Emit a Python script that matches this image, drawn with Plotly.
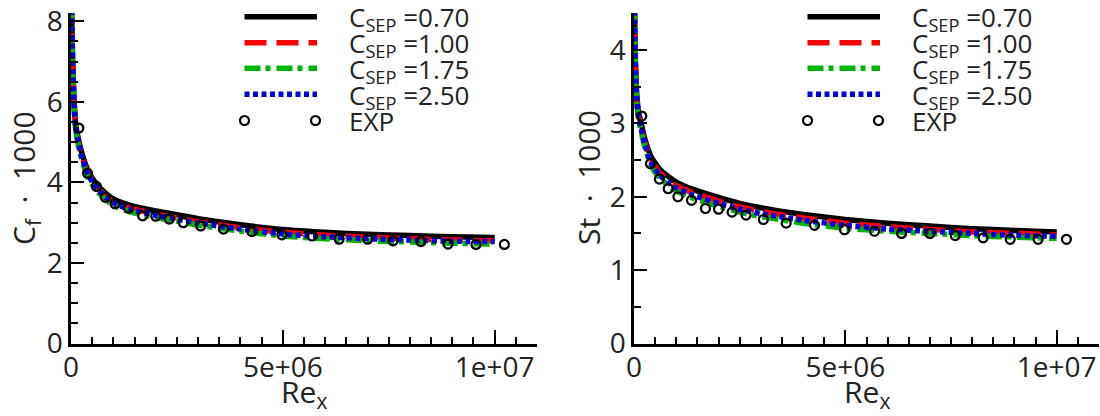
import plotly.graph_objects as go

# ---------------- data ----------------
re_curve = [1e4, 2e4, 4e4, 7e4, 1.1e5, 1.7e5, 2.5e5, 4e5, 6e5, 8e5, 1e6, 1.4e6,
            2e6, 2.5e6, 3e6, 4e6, 5e6, 6e6, 7e6, 8e6, 9e6, 1e7]

cf_070 = [8.6, 7.9, 7.0, 6.1, 5.45, 5.10, 4.75, 4.30, 3.96, 3.75, 3.59, 3.43,
          3.29, 3.20, 3.10, 2.95, 2.83, 2.76, 2.71, 2.68, 2.65, 2.63]
cf_100 = [8.5, 7.8, 6.9, 6.0, 5.38, 5.02, 4.67, 4.22, 3.89, 3.68, 3.52, 3.36,
          3.21, 3.12, 3.02, 2.87, 2.76, 2.69, 2.64, 2.60, 2.57, 2.55]
cf_175 = [8.4, 7.7, 6.8, 5.9, 5.30, 4.93, 4.58, 4.13, 3.80, 3.59, 3.43, 3.27,
          3.13, 3.04, 2.94, 2.79, 2.67, 2.60, 2.55, 2.52, 2.49, 2.47]
cf_250 = [8.5, 7.8, 6.9, 6.0, 5.38, 5.01, 4.66, 4.20, 3.86, 3.65, 3.49, 3.33,
          3.18, 3.09, 2.99, 2.84, 2.72, 2.65, 2.60, 2.57, 2.54, 2.53]

st_070 = [4.70, 4.20, 3.70, 3.35, 3.15, 3.00, 2.80, 2.55, 2.38, 2.28, 2.20, 2.10,
          1.99, 1.91, 1.85, 1.76, 1.69, 1.64, 1.60, 1.565, 1.54, 1.52]
st_100 = [4.65, 4.15, 3.65, 3.30, 3.10, 2.95, 2.75, 2.50, 2.33, 2.23, 2.15, 2.05,
          1.94, 1.86, 1.80, 1.71, 1.64, 1.59, 1.555, 1.52, 1.50, 1.48]
st_175 = [4.60, 4.10, 3.60, 3.25, 3.05, 2.89, 2.69, 2.43, 2.26, 2.16, 2.08, 1.98,
          1.87, 1.79, 1.73, 1.64, 1.57, 1.53, 1.50, 1.47, 1.45, 1.43]
st_250 = [4.65, 4.15, 3.65, 3.30, 3.09, 2.93, 2.73, 2.47, 2.30, 2.20, 2.12, 2.02,
          1.91, 1.83, 1.77, 1.68, 1.61, 1.56, 1.53, 1.50, 1.475, 1.46]

re_exp = [1.85e5, 3.9e5, 6.0e5, 8.1e5, 1.04e6, 1.36e6, 1.69e6, 2.0e6, 2.32e6, 2.65e6,
          3.06e6, 3.6e6, 4.27e6, 4.98e6, 5.69e6, 6.33e6, 7.0e6, 7.6e6, 8.26e6,
          8.9e6, 9.56e6, 1.023e7]
cf_exp = [5.35, 4.23, 3.90, 3.63, 3.47, 3.36, 3.17, 3.16, 3.09, 3.00, 2.92, 2.84,
          2.78, 2.70, 2.67, 2.59, 2.59, 2.55, 2.53, 2.47, 2.46, 2.46]
st_exp = [3.10, 2.45, 2.24, 2.11, 2.00, 1.95, 1.84, 1.83, 1.79, 1.75, 1.69, 1.64,
          1.61, 1.55, 1.53, 1.50, 1.50, 1.47, 1.44, 1.42, 1.42, 1.42]

series_labels = ["0.70", "1.00", "1.75", "2.50"]
x_tickvals = [0, 5e6, 1e7]
x_ticktext = ["0", "5e+06", "1e+07"]

# ---------------- styles ----------------
W, H = 1100, 416
FONT = "Open Sans"
TXT = "#222222"
styles = [
    dict(color="#000000", dash="solid"),
    dict(color="#ff0000", dash="22px,10px"),
    dict(color="#00b400", dash="16px,5px,5px,6px"),
    dict(color="#0000dd", dash="5px,3.5px"),
]
LW = 5.5

fig = go.Figure()

def add_panel(xa, ya, curves, exp_vals):
    for i in range(4):
        fig.add_trace(go.Scatter(
            x=re_curve, y=curves[i], mode="lines", xaxis=xa, yaxis=ya,
            line=dict(color=styles[i]["color"], dash=styles[i]["dash"], width=LW,
                      shape="spline", smoothing=0.5),
            showlegend=False, hoverinfo="skip"))
    fig.add_trace(go.Scatter(
        x=re_exp, y=exp_vals, mode="markers", xaxis=xa, yaxis=ya,
        marker=dict(symbol="circle-open", size=9, color="#000000",
                    line=dict(width=2.2, color="#000000")),
        showlegend=False, hoverinfo="skip"))

add_panel("x", "y", [cf_070, cf_100, cf_175, cf_250], cf_exp)
add_panel("x2", "y2", [st_070, st_100, st_175, st_250], st_exp)

# ---------------- layout / axes ----------------
y_bot = 1 - 343.5 / H
y_top = 1 - 13.3 / H
left_dom = [71 / W, 537 / W]
right_dom = [634 / W, 1099 / W]

def xaxis_cfg(dom, anchor):
    return dict(domain=dom, anchor=anchor, range=[0, 1.1e7], automargin=False,
                tickvals=x_tickvals, ticktext=x_ticktext,
                ticks="inside", ticklen=14, tickwidth=2, tickcolor="#000",
                minor=dict(dtick=5e5, tick0=0, ticks="inside", ticklen=7,
                           tickwidth=1.6, tickcolor="#000"),
                showline=True, linewidth=2.5, linecolor="#000",
                showgrid=False, zeroline=False, ticklabelstandoff=-3,
                tickfont=dict(family=FONT, size=28, color=TXT))

def yaxis_cfg(anchor, rng, dtick):
    return dict(domain=[y_bot, y_top], anchor=anchor, range=rng, automargin=False,
                dtick=dtick, tick0=0,
                ticks="inside", ticklen=13, tickwidth=2, tickcolor="#000",
                minor=dict(dtick=0.5, tick0=0, ticks="inside", ticklen=7,
                           tickwidth=1.6, tickcolor="#000"),
                showline=True, linewidth=2.5, linecolor="#000",
                showgrid=False, zeroline=False,
                tickfont=dict(family=FONT, size=28, color=TXT))

fig.update_layout(
    width=W, height=H,
    margin=dict(l=0, r=0, t=0, b=0, pad=0, autoexpand=False),
    paper_bgcolor="white", plot_bgcolor="rgba(0,0,0,0)",
    showlegend=False,
    xaxis=xaxis_cfg(left_dom, "y"),
    yaxis=yaxis_cfg("x", [0, 8.2], 2),
    xaxis2=xaxis_cfg(right_dom, "y2"),
    yaxis2=yaxis_cfg("x2", [0, 4.5], 1),
    # overlay axis (pixel space) for the hand-drawn legend samples
    xaxis3=dict(domain=[0, 1], range=[0, W], visible=False, anchor="y3",
                automargin=False),
    yaxis3=dict(domain=[0, 1], range=[H, 0], visible=False, anchor="x3",
                automargin=False),
)

# ---------------- legends (one per panel) ----------------
row_y = [16.7, 42.7, 68.3, 94.3]
exp_y = 120.5
annotations = []
for x0 in (71, 634):
    lx0, lx1 = x0 + 173.5, x0 + 246
    for i, ry in enumerate(row_y):
        fig.add_trace(go.Scatter(
            x=[lx0, lx1], y=[ry, ry], mode="lines", xaxis="x3", yaxis="y3",
            line=dict(color=styles[i]["color"], dash=styles[i]["dash"], width=LW),
            showlegend=False, hoverinfo="skip"))
        annotations.append(dict(
            x=(x0 + 276) / W, y=1 - (ry + 1.5) / H, xref="paper", yref="paper",
            xanchor="left", yanchor="middle", showarrow=False,
            text="C<sub>SEP</sub> =" + series_labels[i],
            font=dict(family=FONT, size=26, color=TXT)))
    fig.add_trace(go.Scatter(
        x=[lx0, lx1 - 1.5], y=[exp_y, exp_y], mode="markers", xaxis="x3", yaxis="y3",
        marker=dict(symbol="circle-open", size=9, color="#000000",
                    line=dict(width=2.2, color="#000000")),
        showlegend=False, hoverinfo="skip"))
    annotations.append(dict(
        x=(x0 + 276) / W, y=1 - exp_y / H, xref="paper", yref="paper",
        xanchor="left", yanchor="middle", showarrow=False, text="EXP",
        font=dict(family=FONT, size=26, color=TXT)))

# axis titles
NB = "\u00a0"
for x0, ytxt in ((71, "C<sub>f</sub>" + NB * 2 + "·" + NB * 2 + "1000"),
                 (634, "St" + NB * 2 + "·" + NB * 2 + "1000")):
    annotations.append(dict(
        x=(x0 - 46) / W, y=1 - 178 / H, xref="paper", yref="paper",
        xanchor="center", yanchor="middle", showarrow=False, textangle=-90,
        text=ytxt, font=dict(family=FONT, size=30, color=TXT)))
    annotations.append(dict(
        x=(x0 + 233) / W, y=0.0, xref="paper", yref="paper",
        xanchor="center", yanchor="bottom", showarrow=False, borderpad=0,
        text="Re<sub>x</sub>", font=dict(family=FONT, size=30, color=TXT)))

fig.update_layout(annotations=annotations)
fig.write_html("out.html")
